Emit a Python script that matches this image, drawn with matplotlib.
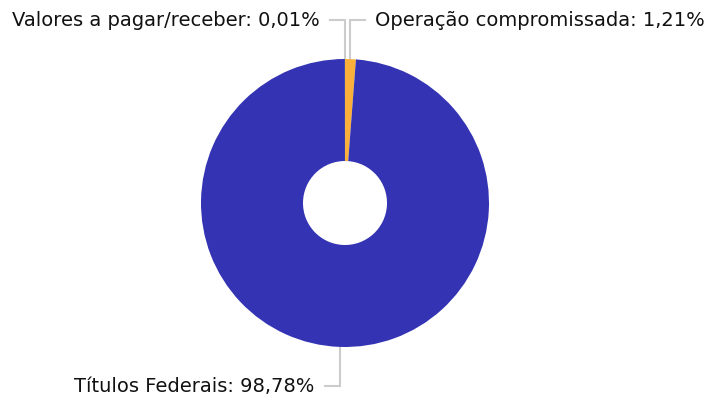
import matplotlib
matplotlib.use("Agg")
import matplotlib.pyplot as plt
import numpy as np

labels = ["Operação compromissada", "Títulos Federais", "Valores a pagar/receber"]
values = [1.21, 98.78, 0.01]
colors = ["#FBB03B", "#3333B3", "#2CA02C"]

W, H = 706, 401
fig = plt.figure(figsize=(W / 100, H / 100), dpi=100)
ax = fig.add_axes([0, 0, 1, 1])

cx, cy = 345, H - 203
R, r_in = 144, 42

wedges, _ = ax.pie(values, colors=colors, startangle=90, counterclock=False,
                   radius=R, center=(cx, cy),
                   wedgeprops=dict(width=R - r_in, linewidth=0),
                   frame=True)
ax.set_xlim(0, W)
ax.set_ylim(0, H)
ax.set_aspect("equal")
ax.axis("off")

line_col = "#cccccc"
top_y = H - 20
bot_y = H - 386
total = sum(values)
cum = 0.0
for lab, v in zip(labels, values):
    mid = (cum + v / 2) / total * 360.0
    cum += v
    th = np.deg2rad(90 - mid)
    x0 = cx + R * np.cos(th)
    y0 = cy + R * np.sin(th)
    ly = top_y if y0 > cy else bot_y
    side = 1 if x0 > cx else -1
    if lab.startswith("Valores"):
        side = -1
    x1 = x0 + side * 15
    ax.plot([x0, x0, x1], [y0, ly, ly], color=line_col, lw=1.5,
            solid_joinstyle="miter", zorder=0)
    txt = f"{lab}: {v:.2f}%".replace(".", ",")
    ax.text(x1 + side * 10, ly, txt, ha="left" if side > 0 else "right",
            va="center", fontsize=14, color="#111111",
            family="DejaVu Sans")

fig.savefig("out.png", dpi=100)
